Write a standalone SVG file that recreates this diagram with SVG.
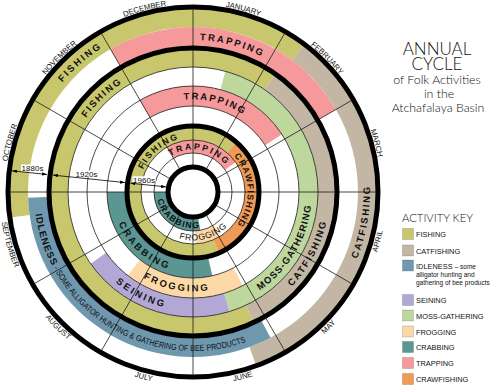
<svg xmlns="http://www.w3.org/2000/svg" width="491" height="386" viewBox="0 0 491 386">
<defs>
<style>
.fish{fill:#c9c76d}
.cat{fill:#c4b6a4}
.idle{fill:#6f98ae}
.sein{fill:#b3a7d5}
.moss{fill:#bdd79d}
.frog{fill:#fcd9a7}
.crab{fill:#5b9693}
.trap{fill:#f6999b}
.craw{fill:#ef9b56}
.thin{fill:none;stroke:#1a1a1a;stroke-width:0.8}
.thick{fill:none;stroke:#000;stroke-width:5}
.rad{stroke:#1a1a1a;stroke-width:0.8}
.lbl{font-family:"Liberation Sans",Arial,sans-serif;font-weight:bold;font-size:9.5px;fill:#111;text-anchor:middle}
.s3{font-size:8.7px}
.mon{font-family:"Liberation Sans",Arial,sans-serif;font-size:7.7px;fill:#111;text-anchor:middle}
.era{font-family:"Liberation Sans",Arial,sans-serif;font-size:8px;fill:#111;text-anchor:middle}
.ttl{font-family:Lato,"Liberation Sans",Arial,sans-serif;font-weight:300;fill:#111;text-anchor:middle}
.key{font-family:"Liberation Sans",Arial,sans-serif;font-size:7.4px;fill:#111}
.small{font-size:6.5px}
.sw{stroke:#000;stroke-opacity:0.25;stroke-width:0.6}
.arr{stroke:#000;stroke-width:0.8;fill:none}
</style>
<marker id="ah" viewBox="0 0 6 4" refX="6" refY="2" markerWidth="5" markerHeight="3.5" markerUnits="userSpaceOnUse" orient="auto-start-reverse"><path d="M0,0L6,2L0,4Z" fill="#000"/></marker>
<path id="p1" d="M24.60,164.33 A170.5,170.5 0 0 1 190.02,20.53"/>
<path id="p2" d="M128.76,53.24 A152,152 0 0 1 317.52,103.81"/>
<path id="p3" d="M306.78,326.58 A177,177 0 0 0 346.28,102.5"/>
<path id="p4" d="M34.87,207.62 A159,159 0 0 0 272.5,328.69"/>
<path id="p5" d="M63.71,177.41 A130,130 0 0 1 183.93,61.31"/>
<path id="p6" d="M145.31,111.62 A92.6,92.6 0 0 1 272.38,143.31"/>
<path id="p7" d="M211.60,308.44 A118.9,118.9 0 0 0 305.42,152.29"/>
<path id="p8" d="M221.42,324.71 A136.7,136.7 0 0 0 319.75,139.79"/>
<path id="p9" d="M113.08,202.23 A80.7,80.7 0 0 0 190.18,271.65"/>
<path id="p10" d="M116.86,254.89 A99.4,99.4 0 0 0 242.7,277.08"/>
<path id="p11" d="M83.55,237.45 A118.9,118.9 0 0 0 219.75,306.86"/>
<path id="p12" d="M139.13,200.50 A54.7,54.7 0 0 1 211.71,139.60"/>
<path id="p13" d="M156.19,169.75 A42.5,42.5 0 0 1 234.85,183.62"/>
<path id="p14" d="M218.68,142.71 A54.7,54.7 0 0 1 221.99,237.39"/>
<path id="p15" d="M157.63,182.83 A36.3,36.3 0 0 0 214.85,219.99"/>
<path id="p16" d="M152.79,218.12 A48.5,48.5 0 0 0 241.23,196.07"/>
<path id="mcw" d="M193,3 A188,188 0 0 1 193,379 A188,188 0 0 1 193,3"/>
<path id="mccw" d="M-0.7,191 A193.7,193.7 0 0 0 386.7,191 A193.7,193.7 0 0 0 -0.7,191"/>
</defs>
<rect width="491" height="386" fill="#fff"/>

<g id="wheel" transform="translate(0,1)">
<g id="era-1880s-bands">
<path class="fish" d="M10.78,216.61 A184,184 0 0 1 303.73,44.06 L292.30,59.23 A165,165 0 0 0 29.60,213.97 Z"/>
<path class="cat" d="M303.73,44.06 A184,184 0 0 1 255.93,363.90 L249.43,346.05 A165,165 0 0 0 292.30,59.23 Z"/>
<path class="trap" d="M110.5,48.11 A165,165 0 0 1 335.89,108.5 L319.44,118 A146,146 0 0 0 120,64.56 Z"/>
<path class="idle" d="M270.47,336.68 A165,165 0 0 1 28.10,196.76 L47.09,196.10 A146,146 0 0 0 261.55,319.90 Z"/>
</g>
<g id="era-1920s-bands">
<path class="fish" d="M253.43,320.60 A143,143 0 1 1 275.02,73.85 L264.70,88.60 A125,125 0 1 0 245.83,304.29 Z"/>
<path class="cat" d="M275.02,73.85 A143,143 0 0 1 253.43,320.60 L245.83,304.29 A125,125 0 0 0 264.70,88.60 Z"/>
<path class="moss" d="M225.35,70.26 A125,125 0 0 1 229.55,310.54 L223.99,292.37 A106,106 0 0 0 220.43,88.61 Z"/>
<path class="sein" d="M229.55,310.54 A125,125 0 0 1 90.60,262.70 L106.16,251.80 A106,106 0 0 0 223.99,292.37 Z"/>
<path class="trap" d="M140,99.20 A106,106 0 0 1 281.90,133.27 L265.13,144.16 A86,86 0 0 0 150,116.52 Z"/>
<path class="frog" d="M242.77,284.59 A106,106 0 0 1 127.74,274.53 L140.05,258.77 A86,86 0 0 0 233.38,266.93 Z"/>
<path class="crab" d="M212.35,274.80 A86,86 0 0 1 107,191 L127,191 A66,66 0 0 0 207.85,255.31 Z"/>
</g>
<g id="era-1960s-bands">
<path class="fish" d="M218.79,251.75 A66,66 0 1 1 236.30,141.19 L227.12,151.76 A52,52 0 1 0 213.32,238.87 Z"/>
<path class="craw" d="M236.30,141.19 A66,66 0 0 1 218.79,251.75 L213.32,238.87 A52,52 0 0 0 227.12,151.76 Z"/>
<path class="trap" d="M167,145.97 A52,52 0 0 1 235.60,161.17 L224.95,168.63 A39,39 0 0 0 173.5,157.23 Z"/>
<path class="frog" d="M220.55,235.10 A52,52 0 0 1 195.72,242.93 L195.04,229.95 A39,39 0 0 0 213.67,224.07 Z"/>
<path class="crab" d="M200.44,229.28 A39,39 0 0 1 154,191 L168,191 A25,25 0 0 0 197.77,215.54 Z"/>
</g>

<g id="grid">
<circle class="thin" cx="193" cy="191" r="125"/>
<circle class="thin" cx="193" cy="191" r="106"/>
<circle class="thin" cx="193" cy="191" r="86"/>
<circle class="thin" cx="193" cy="191" r="52"/>
<circle class="thin" cx="193" cy="191" r="39"/>
<line class="rad" x1="193" y1="6" x2="193" y2="376"/>
<line class="rad" x1="285.5" y1="30.79" x2="100.5" y2="351.21"/>
<line class="rad" x1="353.21" y1="98.5" x2="32.79" y2="283.5"/>
<line class="rad" x1="378" y1="191" x2="8" y2="191"/>
<line class="rad" x1="353.21" y1="283.5" x2="32.79" y2="98.5"/>
<line class="rad" x1="285.5" y1="351.21" x2="100.5" y2="30.79"/>
<circle class="thick" cx="193" cy="191" r="185"/>
<circle class="thick" cx="193" cy="191" r="144"/>
<circle class="thick" cx="193" cy="191" r="66"/>
<circle cx="193" cy="191" r="25" fill="#fff" stroke="#000" stroke-width="5"/>
</g>

<g id="era-arrows">
<rect x="21" y="163.6" width="23" height="7" fill="#fff"/>
<rect x="75.5" y="169.3" width="22" height="7" fill="#fff"/>
<rect x="132.5" y="175.3" width="23" height="7" fill="#fff"/>
<line class="arr" x1="12" y1="169.8" x2="47" y2="173.5" marker-start="url(#ah)" marker-end="url(#ah)"/>
<line class="arr" x1="53" y1="174.1" x2="125" y2="181.6" marker-start="url(#ah)" marker-end="url(#ah)"/>
<line class="arr" x1="130.5" y1="182.2" x2="166" y2="185.9" marker-start="url(#ah)" marker-end="url(#ah)"/>
<text class="era" x="32.5" y="170.3">1880s</text>
<text class="era" x="86.5" y="176">1920s</text>
<text class="era" x="144" y="182">1960s</text>
</g>

<g id="labels-1880s">
<text class="lbl" letter-spacing="2.2"><textPath href="#p1" startOffset="50%">FISHING</textPath></text>
<text class="lbl" letter-spacing="2.1"><textPath href="#p2" startOffset="50%">TRAPPING</textPath></text>
<text class="lbl" letter-spacing="1.8"><textPath href="#p3" startOffset="50%">CATFISHING</textPath></text>
<text class="lbl" letter-spacing="1" style="text-anchor:start"><textPath href="#p4" startOffset="5.5">IDLENESS</textPath></text>
<text class="lbl" style="text-anchor:start;font-weight:normal;font-size:8.5px"><textPath href="#p4" startOffset="63" textLength="224" lengthAdjust="spacingAndGlyphs">- SOME ALLIGATOR HUNTING &amp; GATHERING OF BEE PRODUCTS</textPath></text>
</g>
<g id="labels-1920s">
<text class="lbl" letter-spacing="1.8"><textPath href="#p5" startOffset="50%">FISHING</textPath></text>
<text class="lbl" letter-spacing="1.8"><textPath href="#p6" startOffset="50%">TRAPPING</textPath></text>
<text class="lbl" letter-spacing="1.1"><textPath href="#p7" startOffset="50%">MOSS-GATHERING</textPath></text>
<text class="lbl" letter-spacing="1.8"><textPath href="#p8" startOffset="50%">CATFISHING</textPath></text>
<text class="lbl" letter-spacing="2.4"><textPath href="#p9" startOffset="50%">CRABBING</textPath></text>
<text class="lbl" letter-spacing="2.2"><textPath href="#p10" startOffset="50%">FROGGING</textPath></text>
<text class="lbl" letter-spacing="2.5"><textPath href="#p11" startOffset="50%">SEINING</textPath></text>
</g>
<g id="labels-1960s">
<text class="lbl s3" letter-spacing="2"><textPath href="#p12" startOffset="50%">FISHING</textPath></text>
<text class="lbl s3" letter-spacing="2.2"><textPath href="#p13" startOffset="50%">TRAPPING</textPath></text>
<text class="lbl s3" letter-spacing="1.2"><textPath href="#p14" startOffset="50%">CRAWFISHING</textPath></text>
<text class="lbl s3" letter-spacing="1.2"><textPath href="#p15" startOffset="50%">CRABBING</textPath></text>
<text class="lbl s3" letter-spacing="0.6" style="font-weight:normal"><textPath href="#p16" startOffset="50%">FROGGING</textPath></text>
</g>

<g id="months">
<text class="mon"><textPath href="#mcw" startOffset="50.5">JANUARY</textPath></text>
<text class="mon"><textPath href="#mcw" startOffset="147.7">FEBRUARY</textPath></text>
<text class="mon"><textPath href="#mcw" startOffset="246.1">MARCH</textPath></text>
<text class="mon"><textPath href="#mcw" startOffset="935.1">OCTOBER</textPath></text>
<text class="mon"><textPath href="#mcw" startOffset="1033.6">NOVEMBER</textPath></text>
<text class="mon"><textPath href="#mcw" startOffset="1132">DECEMBER</textPath></text>
<text class="mon"><textPath href="#mccw" startOffset="54.1">SEPTEMBER</textPath></text>
<text class="mon"><textPath href="#mccw" startOffset="152.1">AUGUST</textPath></text>
<text class="mon"><textPath href="#mccw" startOffset="253.6">JULY</textPath></text>
<text class="mon"><textPath href="#mccw" startOffset="355">JUNE</textPath></text>
<text class="mon"><textPath href="#mccw" startOffset="456.4">MAY</textPath></text>
<text class="mon"><textPath href="#mccw" startOffset="557.8">APRIL</textPath></text>
</g>
</g>

<g id="title">
<text class="ttl" x="437" y="55" font-size="17">ANNUAL</text>
<text class="ttl" x="437" y="70" font-size="17">CYCLE</text>
<text class="ttl" x="437" y="84" font-size="12.3">of Folk Activities</text>
<text class="ttl" x="439" y="97.5" font-size="12.3">in the</text>
<text class="ttl" x="438" y="111.5" font-size="12.3">Atchafalaya Basin</text>
</g>

<g id="key">
<text class="ttl" x="402" y="221.5" font-size="11.3" style="text-anchor:start">ACTIVITY KEY</text>
<g id="key-fishing"><rect class="fish sw" x="402.5" y="228.5" width="11" height="11"/><text class="key" x="416" y="237.3">FISHING</text></g>
<g id="key-catfishing"><rect class="cat sw" x="402.5" y="245" width="11" height="11"/><text class="key" x="416" y="253.8">CATFISHING</text></g>
<g id="key-idleness"><rect class="idle sw" x="402.5" y="260" width="11" height="11"/><text class="key" x="416" y="269">IDLENESS <tspan class="small">– some</tspan></text><text class="key small" x="416" y="277">alligator hunting and</text><text class="key small" x="416" y="285">gathering of bee products</text></g>
<g id="key-seining"><rect class="sein sw" x="402.5" y="294.5" width="11" height="11"/><text class="key" x="416" y="303.3">SEINING</text></g>
<g id="key-moss"><rect class="moss sw" x="402.5" y="310" width="11" height="11"/><text class="key" x="416" y="318.8">MOSS-GATHERING</text></g>
<g id="key-frogging"><rect class="frog sw" x="402.5" y="326" width="11" height="11"/><text class="key" x="416" y="334.8">FROGGING</text></g>
<g id="key-crabbing"><rect class="crab sw" x="402.5" y="341.5" width="11" height="11"/><text class="key" x="416" y="350.3">CRABBING</text></g>
<g id="key-trapping"><rect class="trap sw" x="402.5" y="357.5" width="11" height="11"/><text class="key" x="416" y="366.3">TRAPPING</text></g>
<g id="key-crawfishing"><rect class="craw sw" x="402.5" y="373.5" width="11" height="11"/><text class="key" x="416" y="382.3">CRAWFISHING</text></g>
</g>
</svg>
